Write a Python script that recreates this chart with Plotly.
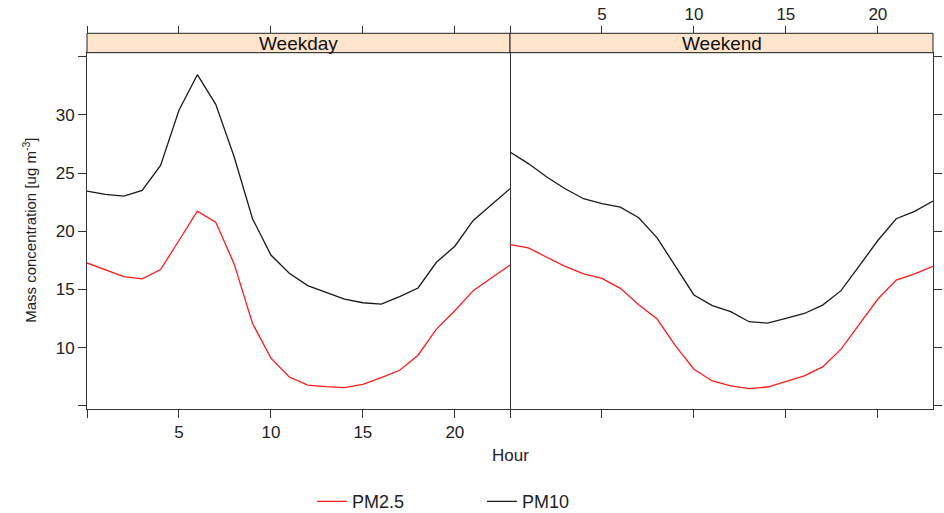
import plotly.graph_objects as go

hours = list(range(24))
panels = ["Weekday", "Weekend"]
series_names = ["PM2.5", "PM10"]

weekday_pm25 = [17.27, 16.7, 16.1, 15.9, 16.7, 19.2, 21.73, 20.78, 17.19, 12.07, 9.09, 7.47,
                6.78, 6.64, 6.55, 6.84, 7.41, 8.05, 9.34, 11.59, 13.16, 14.89, 15.98, 17.1]
weekday_pm10 = [23.45, 23.16, 23.02, 23.5, 25.66, 30.4, 33.45, 30.9, 26.4, 21.07, 17.95, 16.38,
                15.32, 14.74, 14.17, 13.85, 13.74, 14.37, 15.12, 17.33, 18.71, 20.92, 22.3, 23.65]
weekend_pm25 = [18.85, 18.57, 17.76, 16.98, 16.33, 15.95, 15.09, 13.68, 12.45, 10.15, 8.14, 7.13,
                6.7, 6.47, 6.61, 7.07, 7.56, 8.34, 9.86, 12.02, 14.17, 15.8, 16.33, 16.98]
weekend_pm10 = [26.81, 25.81, 24.66, 23.65, 22.79, 22.36, 22.07, 21.16, 19.43, 16.93, 14.52, 13.6,
                13.08, 12.22, 12.1, 12.5, 12.93, 13.65, 14.89, 17.04, 19.2, 21.07, 21.7, 22.59]

x_tickvals = [5, 10, 15, 20]
x_minor_tickvals = [0]
y_tickvals = [10, 15, 20, 25, 30]
y_minor_tickvals = [5, 35]

W, H = 944, 513
xl0, xmid, xr1 = 87, 510, 933
ytop, ybot = 52.7, 409.0
strip_top = 33.3

def px(x):
    return x / W

def py(y):
    return (H - y) / H

red = "#ff1a1a"
black = "#1a1a1a"
axcol = "#333333"
font_family = "Liberation Sans, Arial, sans-serif"
tickfont = dict(size=17, color="#222", family=font_family)

fig = go.Figure()
data = {
    ("Weekday", "PM2.5"): weekday_pm25,
    ("Weekday", "PM10"): weekday_pm10,
    ("Weekend", "PM2.5"): weekend_pm25,
    ("Weekend", "PM10"): weekend_pm10,
}
colors = {"PM2.5": red, "PM10": black}
for i, panel in enumerate(panels):
    for s in series_names:
        fig.add_trace(go.Scatter(
            x=hours, y=data[(panel, s)], mode="lines", name=s,
            line=dict(color=colors[s], width=1.3),
            xaxis="x" if i == 0 else "x2", yaxis="y" if i == 0 else "y2",
            showlegend=(i == 0), legendgroup=s,
        ))
# invisible carriers so the top (alternating) hour axes are drawn
for i, panel in enumerate(panels):
    fig.add_trace(go.Scatter(
        x=hours, y=data[(panel, "PM10")], mode="lines", opacity=0,
        line=dict(width=0), hoverinfo="skip", showlegend=False,
        xaxis="x3" if i == 0 else "x4", yaxis="y" if i == 0 else "y2",
    ))

yr = [4.72, 35.34]
minor_x = dict(tickvals=x_minor_tickvals, ticks="outside", ticklen=8, tickcolor=axcol, showgrid=False)
minor_y = dict(tickvals=y_minor_tickvals, ticks="outside", ticklen=8, tickcolor=axcol, showgrid=False)
common_x = dict(range=[0, 23], showgrid=False, zeroline=False, tickvals=x_tickvals,
                ticks="outside", ticklen=8, tickcolor=axcol, showline=True, mirror=True,
                linecolor=axcol, linewidth=1, tickfont=tickfont, minor=minor_x)
common_y = dict(range=yr, showgrid=False, zeroline=False, tickvals=y_tickvals,
                ticks="outside", ticklen=8, tickcolor=axcol, showline=True,
                linecolor=axcol, linewidth=1, tickfont=tickfont, minor=minor_y)

top_pos = py(strip_top)
top_common = dict(side="top", anchor="free", position=top_pos, range=[0, 23],
                  tickvals=x_tickvals, ticks="outside", ticklen=7, tickcolor=axcol,
                  showgrid=False, zeroline=False, showline=False, tickfont=tickfont,
                  minor=dict(tickvals=x_minor_tickvals, ticks="outside", ticklen=7,
                             tickcolor=axcol, showgrid=False))
fig.update_layout(
    width=W, height=H, autosize=False,
    margin=dict(l=0, r=0, t=0, b=0, autoexpand=False),
    paper_bgcolor="white", plot_bgcolor="white",
    font=dict(family=font_family, color="#222"),
    xaxis=dict(domain=[px(xl0), px(xmid)], anchor="y", **common_x),
    xaxis2=dict(domain=[px(xmid), px(xr1)], anchor="y2", showticklabels=False, **common_x),
    xaxis3=dict(overlaying="x", showticklabels=False, **top_common),
    xaxis4=dict(overlaying="x2", showticklabels=True, **top_common),
    yaxis=dict(domain=[py(ybot), py(ytop)], anchor="x", mirror=True, **common_y),
    yaxis2=dict(domain=[py(ybot), py(ytop)], anchor="x2", side="right", showticklabels=False,
                mirror=False, **common_y),
    legend=dict(orientation="h", x=px(312), xanchor="left", y=-0.014, yanchor="bottom",
                font=dict(size=18, color="#222", family=font_family),
                entrywidth=125, entrywidthmode="pixels", bgcolor="rgba(0,0,0,0)"),
)

# strips
for x0, x1, label in [(xl0, xmid, panels[0]), (xmid, xr1, panels[1])]:
    fig.add_shape(type="rect", xref="paper", yref="paper",
                  x0=px(x0), x1=px(x1), y0=py(ytop), y1=py(strip_top),
                  fillcolor="#FFE5CC", line=dict(color="#222", width=1))
    fig.add_annotation(xref="paper", yref="paper", x=px((x0 + x1) / 2), y=py((ytop + strip_top) / 2),
                       text=label, showarrow=False, xanchor="center", yanchor="middle",
                       font=dict(size=19, color="#111", family=font_family))

fig.add_annotation(xref="paper", yref="paper", x=px(30), y=py((ytop + ybot) / 2),
                   text="Mass concentration [ug m<sup>-3</sup>]", textangle=-90,
                   showarrow=False, xanchor="center", yanchor="middle",
                   font=dict(size=15, color="#222", family=font_family))
fig.add_annotation(xref="paper", yref="paper", x=px(510), y=py(455),
                   text="Hour", showarrow=False, xanchor="center", yanchor="middle",
                   font=dict(size=17, color="#222", family=font_family))

fig.write_html("out.html")
